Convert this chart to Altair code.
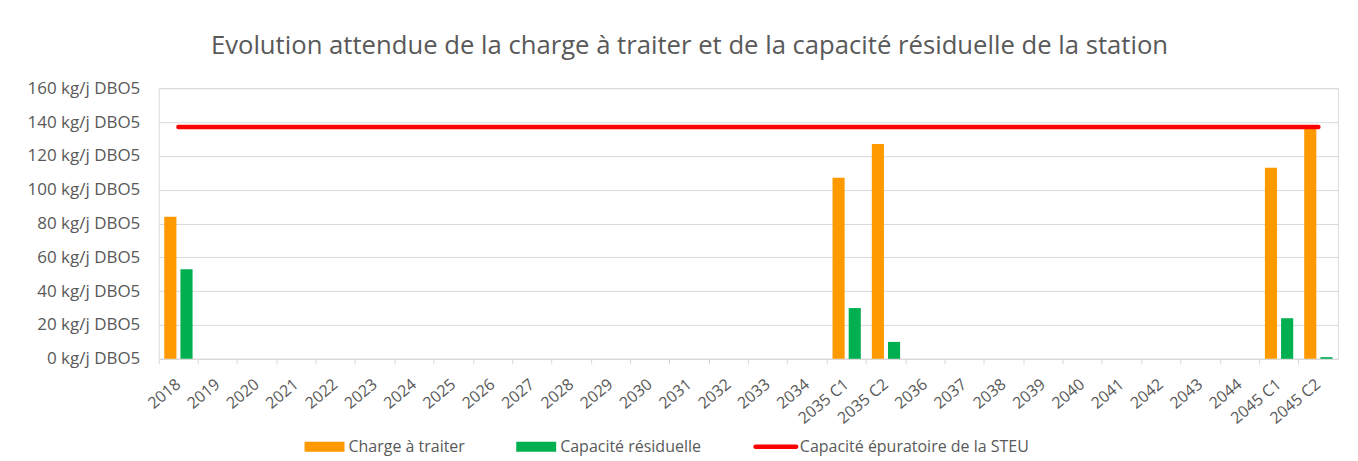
import altair as alt
import pandas as pd

categories = ["2018", "2019", "2020", "2021", "2022", "2023", "2024", "2025", "2026",
              "2027", "2028", "2029", "2030", "2031", "2032", "2033", "2034",
              "2035 C1", "2035 C2", "2036", "2037", "2038", "2039", "2040", "2041",
              "2042", "2043", "2044", "2045 C1", "2045 C2"]

charge = [84, None, None, None, None, None, None, None, None,
          None, None, None, None, None, None, None, None,
          107, 127, None, None, None, None, None, None,
          None, None, None, 113, 136]

residuelle = [53, None, None, None, None, None, None, None, None,
              None, None, None, None, None, None, None, None,
              30, 10, None, None, None, None, None, None,
              None, None, None, 24, 1]

capacite = [137] * 30

series_names = ["Charge à traiter", "Capacité résiduelle", "Capacité épuratoire de la STEU"]
series_colors = ["#FF9900", "#00B050", "#FF0000"]
legend_shapes = [
    "M-1,-0.25H1V0.25H-1Z",
    "M-1,-0.25H1V0.25H-1Z",
    "M-1.02,-0.11H1.02A0.11,0.11 0 0 1 1.02,0.11H-1.02A0.11,0.11 0 0 1 -1.02,-0.11Z",
]

rows = []
for c, v in zip(categories, charge):
    if v is not None:
        rows.append({"cat": c, "series": series_names[0], "value": v})
for c, v in zip(categories, residuelle):
    if v is not None:
        rows.append({"cat": c, "series": series_names[1], "value": v})
bars_df = pd.DataFrame(rows)
line_df = pd.DataFrame({"cat": categories, "series": series_names[2], "value": capacite})
all_df = pd.concat([bars_df, line_df], ignore_index=True)

FONT = "Open Sans"
GRAY = "#595959"

x_enc = alt.X("cat:N", sort=categories, title=None,
              scale=alt.Scale(domain=categories, paddingInner=0.28, paddingOuter=0.14),
              axis=alt.Axis(labelAngle=-40, labelAlign="right", labelBaseline="middle",
                            bandPosition=-0.19))
y_enc = alt.Y("value:Q", title=None,
              scale=alt.Scale(domain=[0, 160]),
              axis=alt.Axis(values=[0, 20, 40, 60, 80, 100, 120, 140, 160],
                            labelExpr="datum.value + ' kg/j DBO5'"))

bars = alt.Chart(bars_df).mark_bar().encode(
    x=x_enc, y=y_enc,
    xOffset=alt.XOffset("series:N", sort=series_names[:2],
                        scale=alt.Scale(domain=series_names[:2], paddingInner=0.25)),
    fill=alt.Fill("series:N", scale=alt.Scale(domain=series_names[:2], range=series_colors[:2]),
                  legend=None),
)

line = alt.Chart(line_df).mark_line(strokeWidth=4.5, strokeCap="round", color="#FF0000").encode(
    x=x_enc, y=y_enc,
)

legend_pts = alt.Chart(all_df).mark_point(filled=True, size=0, strokeWidth=0, opacity=1).encode(
    x=x_enc, y=y_enc,
    color=alt.Color("series:N", scale=alt.Scale(domain=series_names, range=series_colors),
                    legend=alt.Legend(title=None, orient="none", direction="horizontal",
                                      legendX=146, legendY=339,
                                      symbolSize=1600, labelLimit=500,
                                      symbolOpacity=1, symbolStrokeWidth=0)),
    shape=alt.Shape("series:N", scale=alt.Scale(domain=series_names, range=legend_shapes)),
)

chart = alt.layer(bars, line, legend_pts).properties(
    width=1181, height=271,
    title=alt.Title("Evolution attendue de la charge à traiter et de la capacité résiduelle de la station",
                    anchor="middle", offset=20, dx=-59),
    padding={"left": 19, "top": 24, "right": 12, "bottom": 5},
).configure_view(stroke=None).configure(background="white").configure_title(
    font=FONT, fontSize=25.7, fontWeight="normal", color=GRAY
).configure_axisX(
    labelFont=FONT, labelFontSize=16, labelColor=GRAY,
    domainColor="#D9D9D9", tickColor="#D9D9D9", tickSize=5, labelPadding=18, grid=False
).configure_axisY(
    labelFont=FONT, labelFontSize=17, labelColor=GRAY,
    ticks=False, domain=False, gridColor="#D9D9D9", labelPadding=19
).configure_legend(
    labelFont=FONT, labelFontSize=16, labelColor=GRAY, columnPadding=51, labelOffset=4
)

chart.save("out.html", embed_options={"renderer": "svg", "actions": False})
